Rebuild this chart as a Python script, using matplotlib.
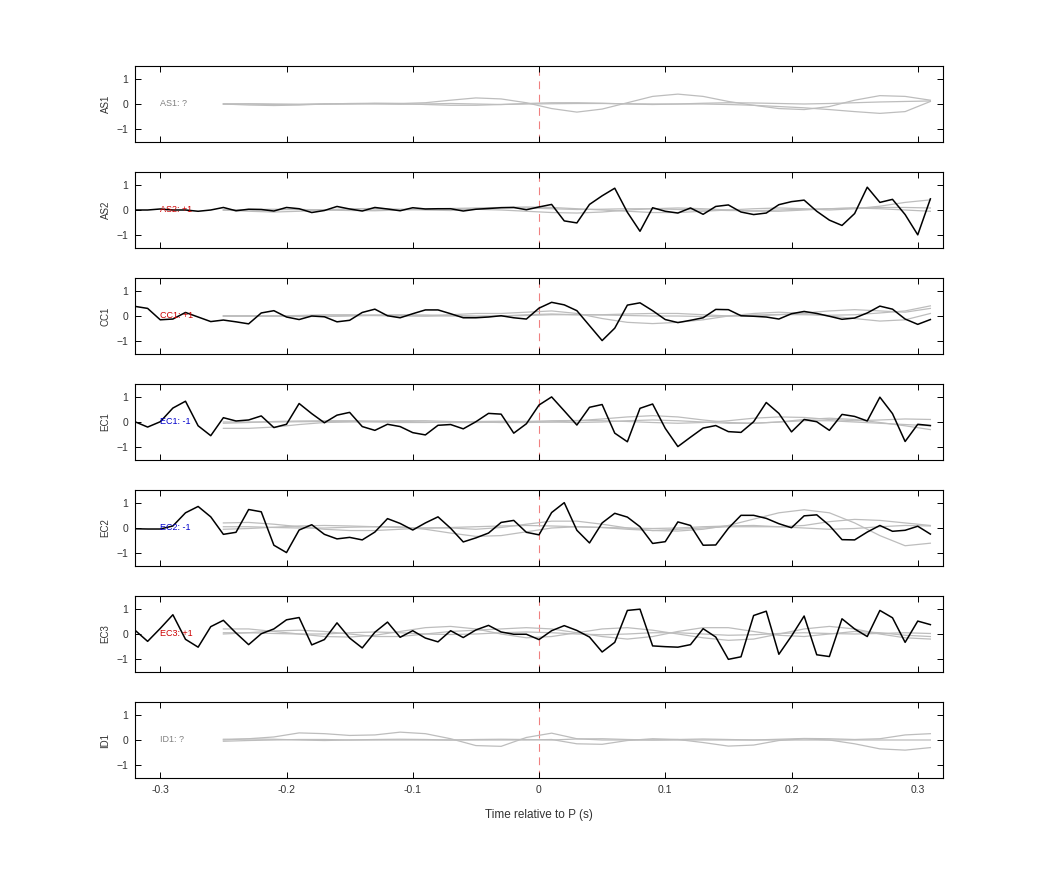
import numpy as np
import matplotlib
matplotlib.use("Agg")
import matplotlib.pyplot as plt

plt.rcParams['font.family'] = ['Liberation Sans', 'DejaVu Sans']

stations = ["AS1", "AS2", "CC1", "EC1", "EC2", "EC3", "ID1"]
labels = ["AS1: ?", "AS2: +1", "CC1: +1", "EC1: -1", "EC2: -1", "EC3: +1", "ID1: ?"]
label_colors = ["#808080", "#cc0000", "#cc0000", "#0000cc", "#0000cc", "#cc0000", "#808080"]

# black traces sampled every 0.01 s from -0.32 to 0.31
t_black = np.round(np.arange(-0.32, 0.315, 0.01), 2)
black = {
    "AS2": [0, 0, 0.04, 0, 0, -0.05, 0, 0.1, -0.03, 0.03, 0.02, -0.04, 0.1, 0.05, -0.1, -0.02, 0.14,
            0.04, -0.04, 0.1, 0.04, -0.03, 0.09, 0.04, 0.05, 0.05, -0.04, 0.03, 0.06, 0.09, 0.1,
            0.01, 0.12, 0.22, -0.43, -0.51, 0.22, 0.56, 0.86, -0.09, -0.84, 0.09, -0.05, -0.12,
            0.08, -0.17, 0.14, 0.2, -0.08, -0.18, -0.12, 0.21, 0.33, 0.39, -0.05, -0.4, -0.61,
            -0.14, 0.9, 0.3, 0.42, -0.18, -0.98, 0.44],
    "CC1": [0.38, 0.3, -0.15, -0.12, 0.14, -0.04, -0.22, -0.16, -0.23, -0.31, 0.12, 0.21, -0.04,
            -0.14, 0, -0.03, -0.23, -0.17, 0.14, 0.27, 0.01, -0.07, 0.09, 0.24, 0.24, 0.09, -0.07,
            -0.07, -0.04, 0.01, -0.07, -0.12, 0.31, 0.54, 0.44, 0.21, -0.38, -0.97, -0.48, 0.43,
            0.52, 0.21, -0.14, -0.26, -0.17, -0.07, 0.26, 0.25, 0.01, -0.01, -0.04, -0.12, 0.09,
            0.18, 0.1, -0.01, -0.13, -0.08, 0.12, 0.39, 0.27, -0.12, -0.33, -0.14],
    "EC1": [0.01, -0.2, 0.01, 0.55, 0.82, -0.15, -0.54, 0.17, 0.04, 0.08, 0.24, -0.22, -0.09,
            0.73, 0.33, -0.03, 0.27, 0.38, -0.18, -0.33, -0.09, -0.18, -0.42, -0.51, -0.13, -0.1,
            -0.27, 0.01, 0.34, 0.31, -0.44, -0.07, 0.67, 0.99, 0.44, -0.12, 0.58, 0.69, -0.44,
            -0.78, 0.54, 0.71, -0.25, -0.97, -0.6, -0.24, -0.14, -0.38, -0.41, 0.01, 0.77, 0.34,
            -0.39, 0.1, 0.01, -0.33, 0.3, 0.22, 0.04, 0.98, 0.33, -0.77, -0.09, -0.14],
    "EC2": [-0.03, -0.04, -0.04, 0.08, 0.6, 0.85, 0.44, -0.25, -0.17, 0.73, 0.64, -0.68, -0.97,
            -0.08, 0.13, -0.25, -0.43, -0.37, -0.47, -0.16, 0.37, 0.18, -0.08, 0.2, 0.44, -0.01,
            -0.55, -0.39, -0.2, 0.22, 0.3, -0.17, -0.27, 0.61, 1.0, -0.09, -0.59, 0.2, 0.58, 0.43,
            0.05, -0.61, -0.54, 0.24, 0.1, -0.68, -0.67, -0.01, 0.5, 0.5, 0.38, 0.17, 0.01, 0.48,
            0.52, 0.1, -0.46, -0.47, -0.16, 0.1, -0.13, -0.09, 0.07, -0.24],
    "EC3": [0.15, -0.29, 0.22, 0.76, -0.21, -0.52, 0.29, 0.54, 0.04, -0.42, 0.01, 0.2, 0.56, 0.65,
            -0.43, -0.22, 0.44, -0.16, -0.55, 0.07, 0.47, -0.13, 0.13, -0.16, -0.31, 0.13, -0.14,
            0.16, 0.34, 0.08, -0.01, -0.01, -0.22, 0.13, 0.33, 0.14, -0.12, -0.71, -0.33, 0.93,
            0.98, -0.47, -0.5, -0.52, -0.42, 0.21, -0.12, -1.0, -0.9, 0.73, 0.9, -0.8, -0.08, 0.71,
            -0.82, -0.89, 0.6, 0.2, -0.1, 0.93, 0.64, -0.33, 0.51, 0.37],
}

# gray traces sampled every 0.02 s from -0.25 to 0.31
t_gray = np.round(np.arange(-0.25, 0.315, 0.02), 2)
gray = {
    "AS1": [
        [0, 0, -0.02, -0.02, 0, 0, 0.02, 0.02, 0.05, 0.15, 0.24, 0.2, 0.05, -0.18, -0.32, -0.2, 0.05, 0.3, 0.39, 0.3, 0.1, -0.05, -0.18, -0.22, -0.1, 0.15, 0.33, 0.3, 0.15],
        [0, 0.01, 0, -0.01, 0, 0.01, 0, -0.01, 0, 0.02, 0, -0.02, 0, 0.01, 0.02, 0.02, 0.01, 0, 0, 0, -0.02, -0.05, -0.1, -0.15, -0.22, -0.3, -0.37, -0.3, 0.1],
        [0, -0.04, -0.06, -0.04, 0, 0.02, 0.03, 0.02, -0.02, -0.05, -0.05, -0.02, 0.02, 0.05, 0.05, 0.03, 0, -0.02, 0, 0.03, 0.05, 0.04, 0.02, 0, 0.02, 0.05, 0.08, 0.1, 0.12],
    ],
    "AS2": [
        [0, -0.05, -0.08, -0.05, 0, 0.05, 0.06, 0.03, 0, -0.02, 0.05, 0.1, 0.12, 0.1, 0.05, 0, -0.05, -0.1, -0.1, -0.05, 0, 0.05, 0.08, 0.05, 0, 0.05, 0.15, 0.3, 0.4],
        [0, 0.02, 0.03, 0.02, 0, -0.02, -0.03, 0, 0.03, 0.05, 0.03, 0, -0.05, -0.1, -0.12, -0.08, 0, 0.05, 0.08, 0.05, 0, -0.05, -0.05, 0, 0.05, 0.08, 0.05, 0, -0.05],
        [0, 0, 0.01, 0.02, 0.01, 0, 0, 0.02, 0.04, 0.06, 0.08, 0.1, 0.08, 0.05, 0.02, 0.03, 0.05, 0.05, 0.02, 0, -0.02, -0.03, 0, 0.03, 0.05, 0.08, 0.1, 0.1, 0.08],
    ],
    "CC1": [
        [0, 0, 0, 0.02, 0.05, 0.05, 0.02, 0, 0, 0.05, 0.1, 0.1, 0.15, 0.2, 0.1, -0.1, -0.25, -0.3, -0.25, -0.15, 0, 0.1, 0.15, 0.1, 0, -0.1, -0.2, -0.15, 0.1],
        [0, 0, 0, 0, 0, 0.02, 0.04, 0.05, 0.04, 0.02, 0, 0, 0.05, 0.08, 0.05, 0.05, 0.08, 0.1, 0.1, 0.05, 0, 0, 0.05, 0.12, 0.2, 0.25, 0.2, 0.15, 0.3],
        [0, 0, 0, -0.02, -0.02, 0, 0.02, 0.02, 0, 0, -0.02, 0, 0.02, 0.05, 0.05, 0.04, 0.02, 0, 0, -0.02, 0, 0.04, 0.06, 0.05, 0.03, 0.05, 0.12, 0.2, 0.4],
    ],
    "EC1": [
        [-0.25, -0.25, -0.2, -0.1, -0.02, 0, 0.02, 0.05, 0.05, 0.02, 0, -0.02, -0.02, 0, 0.05, 0.12, 0.2, 0.25, 0.2, 0.08, -0.02, -0.05, 0, 0.1, 0.15, 0.1, -0.02, -0.15, -0.3],
        [-0.05, -0.02, 0.02, 0.04, 0.05, 0.05, 0.04, 0.02, 0, -0.02, -0.02, 0, 0.02, 0.05, 0.06, 0.05, 0.02, -0.02, -0.05, -0.02, 0.05, 0.15, 0.2, 0.18, 0.1, 0.05, 0.08, 0.12, 0.1],
        [0, 0, 0, 0.01, 0.02, 0.02, 0, -0.02, -0.02, 0, 0.02, 0.03, 0.02, 0, -0.02, 0, 0.05, 0.08, 0.05, 0, -0.05, -0.05, 0, 0.05, 0.05, 0, -0.05, -0.1, -0.15],
    ],
    "EC2": [
        [0.2, 0.22, 0.15, 0.05, -0.05, -0.1, -0.1, -0.05, 0, 0, -0.05, 0.02, 0.15, 0.27, 0.27, 0.15, 0, -0.1, -0.12, -0.05, 0.1, 0.35, 0.6, 0.72, 0.6, 0.2, -0.3, -0.7, -0.6],
        [0.05, 0.05, 0.02, 0, 0, 0.03, 0.05, 0.05, -0.05, -0.2, -0.33, -0.3, -0.15, 0, 0.05, 0.02, -0.05, -0.1, -0.05, 0, 0.05, 0.05, 0.05, 0.1, 0.25, 0.34, 0.3, 0.2, 0.1],
        [-0.05, -0.02, 0.03, 0.08, 0.1, 0.08, 0.05, 0.02, 0, 0.02, 0.05, 0.08, 0.1, 0.08, 0.05, 0.02, 0, -0.02, 0, 0.05, 0.08, 0.1, 0.05, 0, -0.05, -0.02, 0.05, 0.1, 0.08],
    ],
    "EC3": [
        [0.2, 0.2, 0.1, 0, -0.1, -0.12, -0.05, 0.1, 0.25, 0.3, 0.2, 0, -0.15, -0.1, 0.05, 0.2, 0.25, 0.15, 0, -0.15, -0.25, -0.2, 0, 0.2, 0.3, 0.2, 0, -0.15, -0.2],
        [0, 0.05, 0.12, 0.15, 0.1, 0, -0.1, -0.1, 0, 0.1, 0.15, 0.2, 0.25, 0.2, 0.05, -0.1, -0.2, -0.1, 0.1, 0.25, 0.25, 0.1, -0.05, -0.1, 0, 0.1, 0.05, -0.05, -0.1],
        [0.05, 0.05, 0.02, 0, 0, 0.05, 0.08, 0.05, 0, -0.02, 0, 0.05, 0.08, 0.05, 0, -0.03, 0, 0.05, 0.05, 0, -0.05, -0.03, 0.02, 0.05, 0.02, 0, 0.02, 0.05, 0.02],
    ],
    "ID1": [
        [0, 0.05, 0.12, 0.28, 0.25, 0.18, 0.2, 0.31, 0.25, 0.05, -0.22, -0.25, 0.1, 0.27, 0.05, 0, 0, 0, 0, 0, 0, 0, 0, 0, 0, 0, 0, 0, 0],
        [-0.05, -0.02, 0, 0.02, 0.02, 0, 0, 0, 0, 0, 0, 0, 0, 0.02, -0.15, -0.17, -0.02, 0.05, 0.02, -0.1, -0.24, -0.2, -0.02, 0.05, 0, -0.15, -0.35, -0.4, -0.3],
        [0.03, 0.04, 0.03, 0, -0.02, 0, 0.02, 0.03, 0.02, 0, 0.02, 0.03, 0.02, 0, 0.04, 0.05, 0.02, 0, 0.02, 0.04, 0.02, 0, 0.03, 0.06, 0.05, 0.02, 0.05, 0.2, 0.25],
    ],
}

W, H = 1042, 875
fig = plt.figure(figsize=(W / 100, H / 100), dpi=100)
left, right = 135 / W, 943 / W
tops = [66, 172, 278, 384, 490, 596, 702]
ph = 76
for i, st in enumerate(stations):
    ax = fig.add_axes([left, 1 - (tops[i] + ph) / H, right - left, ph / H])
    for g in gray.get(st, []):
        ax.plot(t_gray, g, color="#bdbdbd", lw=0.9, zorder=2)
    if st in black:
        ax.plot(t_black, black[st], color="black", lw=1.1, zorder=3)
    ax.axvline(0, color="#f08080", lw=0.8, ls=(0, (7, 5)), zorder=1)
    ax.text(-0.30, 0, labels[i], color=label_colors[i], fontsize=6.5, va="center", ha="left", zorder=4)
    ax.set_xlim(-0.32, 0.32)
    ax.set_ylim(-1.5, 1.5)
    ax.set_yticks([-1, 0, 1])
    ax.set_xticks([-0.3, -0.2, -0.1, 0, 0.1, 0.2, 0.3])
    ax.tick_params(direction="in", top=True, right=True, labelsize=7.5, length=4, width=0.7, pad=5,
                   labelcolor="#333333")
    ax.set_ylabel(st, fontsize=7, labelpad=4, color="#333333")
    for s in ax.spines.values():
        s.set_linewidth(0.8)
    if i < len(stations) - 1:
        ax.tick_params(labelbottom=False)
    else:
        ax.set_xticklabels(["-0.3", "-0.2", "-0.1", "0", "0.1", "0.2", "0.3"])
        ax.set_xlabel("Time relative to P (s)", fontsize=8.5, labelpad=10, color="#333333")

fig.savefig("out.png", dpi=100)
